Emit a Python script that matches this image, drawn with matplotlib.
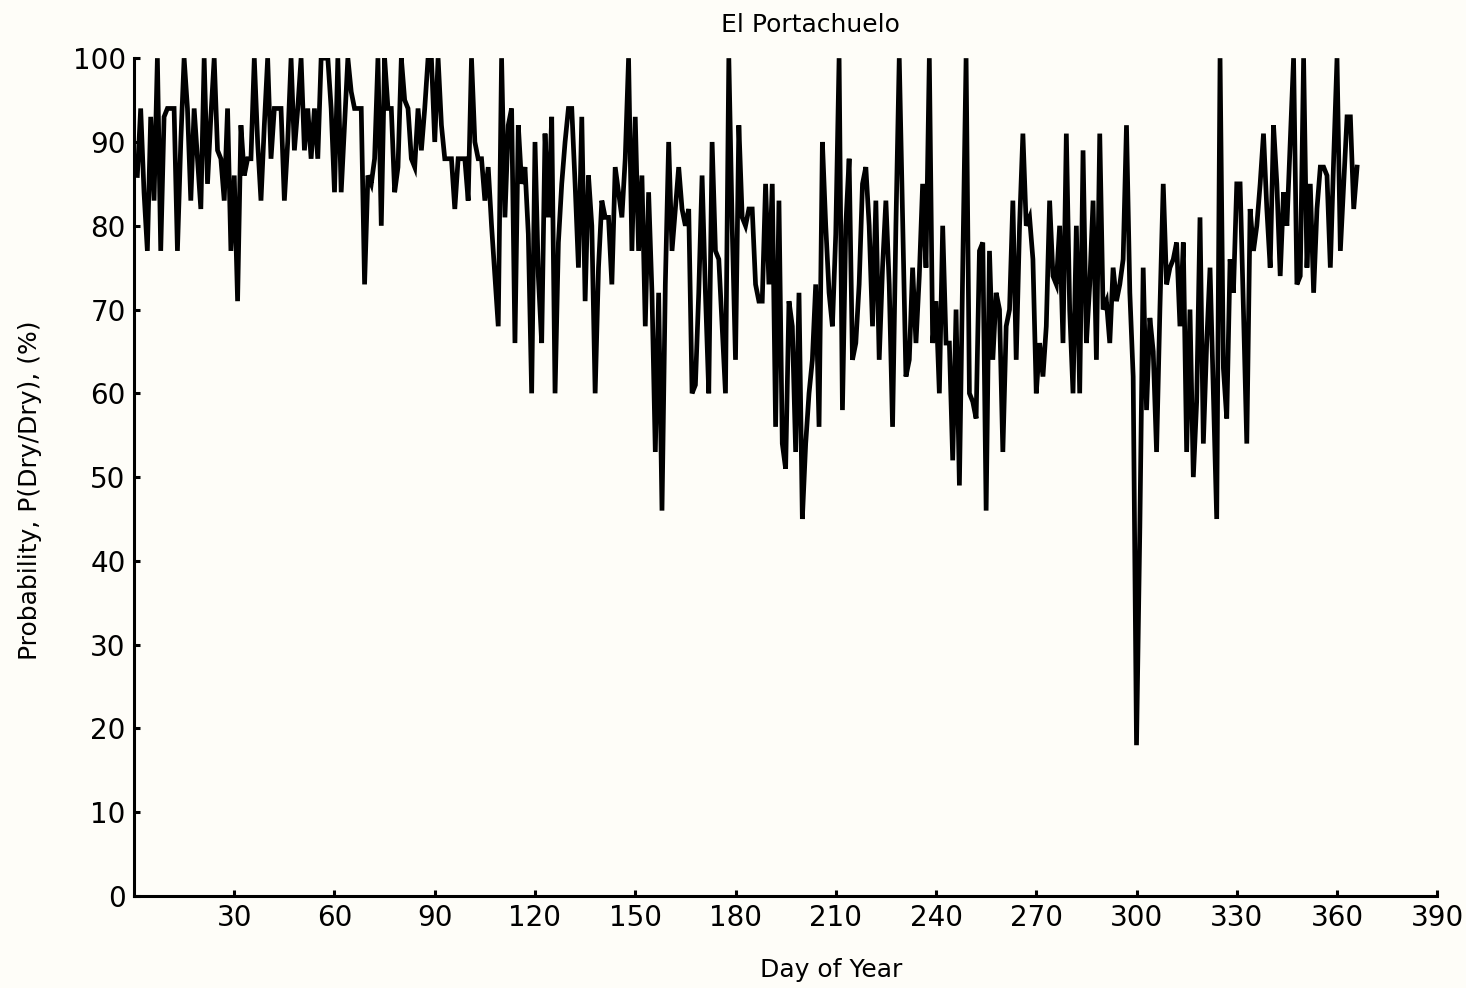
import numpy as np
import matplotlib
matplotlib.use("Agg")
import matplotlib.pyplot as plt

# daily P(Dry/Dry) in %, day 1..366
p_q1 = [86, 94, 84, 77, 93, 83, 100, 77, 93, 94,
        94, 94, 77, 90, 100, 94, 83, 94, 88, 82,
        100, 85, 93, 100, 89, 88, 83, 94, 77, 86,
        71, 92, 86, 88, 88, 100, 90, 83, 92, 100,
        88, 94, 94, 94, 83, 90, 100, 89, 94, 100,
        89, 94, 88, 94, 88, 100, 100, 100, 94, 84,
        100, 84, 92, 100, 96, 94, 94, 94, 73, 86,
        85, 88, 100, 80, 100, 94, 94, 84, 87, 100,
        95, 94, 88, 87, 94, 89, 94, 100, 100, 90]
p_q2 = [100, 92, 88, 88, 88, 82, 88, 88, 88, 83,
        100, 90, 88, 88, 83, 87, 80, 74, 68, 100,
        81, 92, 94, 66, 92, 85, 87, 79, 60, 90,
        74, 66, 91, 81, 93, 60, 78, 85, 90, 94,
        94, 85, 75, 93, 71, 86, 80, 60, 75, 83,
        81, 81, 73, 87, 84, 81, 88, 100, 77, 93,
        77, 86, 68, 84, 72, 53, 72, 46, 73, 90,
        77, 82, 87, 82, 80, 82, 60, 61, 72, 86,
        72, 60, 90, 77, 76, 68, 60, 100, 80, 64]
p_q3 = [92, 81, 80, 82, 82, 73, 71, 71, 85, 73,
        85, 56, 83, 54, 51, 71, 68, 53, 72, 45,
        54, 60, 64, 73, 56, 90, 80, 72, 68, 79,
        100, 58, 80, 88, 64, 66, 73, 85, 87, 80,
        68, 83, 64, 75, 83, 73, 56, 80, 100, 81,
        62, 64, 75, 66, 74, 85, 75, 100, 66, 71,
        60, 80, 66, 66, 52, 70, 49, 75, 100, 60,
        59, 57, 77, 78, 46, 77, 64, 72, 70, 53,
        68, 70, 83, 64, 80, 91, 80, 81, 76, 60]
p_q4 = [66, 62, 68, 83, 74, 73, 80, 66, 91, 70,
        60, 80, 60, 89, 66, 73, 83, 64, 91, 70,
        71, 66, 75, 71, 73, 76, 92, 72, 62, 18,
        44, 75, 58, 69, 65, 53, 70, 85, 73, 75,
        76, 78, 68, 78, 53, 70, 50, 59, 81, 54,
        66, 75, 60, 45, 100, 63, 57, 76, 72, 85,
        85, 70, 54, 82, 77, 80, 85, 91, 82, 75,
        92, 85, 74, 84, 80, 90, 100, 73, 74, 100,
        75, 85, 72, 82, 87, 87, 86, 75, 88, 100,
        77, 85, 93, 93, 82, 87]

prob = np.array(p_q1 + p_q2 + p_q3 + p_q4)
days = np.arange(1, len(prob) + 1)

x_ticks = np.arange(30, 391, 30)
y_ticks = np.arange(0, 101, 10)

bg = "#fefdf8"
fig = plt.figure(figsize=(14.66, 9.88), dpi=100, facecolor=bg)
ax = fig.add_axes([0.0914, 0.0931, 0.889, 0.848], facecolor=bg)

ax.plot(days, prob, color="black", lw=3.4, solid_joinstyle="miter")

ax.set_xlim(0, 390)
ax.set_ylim(0, 100)
ax.set_xticks(x_ticks)
ax.set_yticks(y_ticks)
for s in ["top", "right"]:
    ax.spines[s].set_visible(False)
for s in ["left", "bottom"]:
    ax.spines[s].set_linewidth(2.2)
ax.tick_params(direction="in", length=4, width=2.2, labelsize=20, pad=6)

# axis titles sit off-centre in the original, so place them on the figure
fig.text(0.567, 0.018, "Day of Year", ha="center", va="center", fontsize=18)
fig.text(0.0205, 0.504, "Probability, P(Dry/Dry), (%)", ha="center",
         va="center", rotation=90, fontsize=18)
fig.text(0.5525, 0.975, "El Portachuelo", ha="center", va="center", fontsize=18)

fig.savefig("out.png", dpi=100, facecolor=bg)
